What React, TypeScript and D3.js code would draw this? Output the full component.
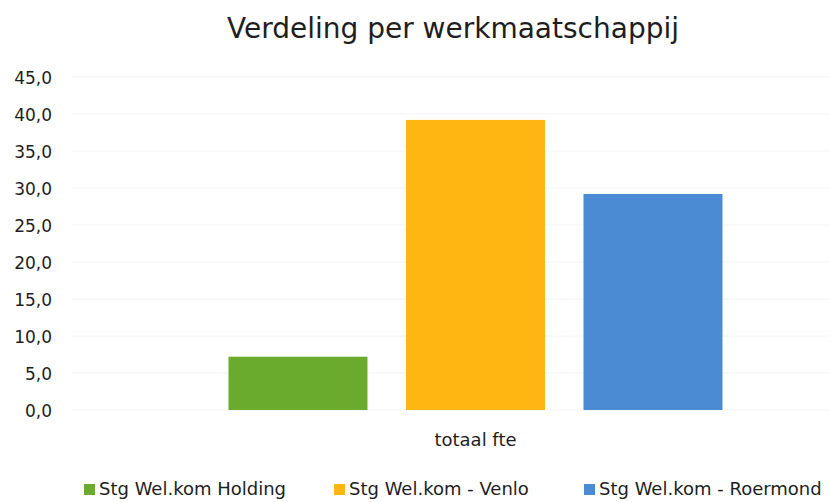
import { useRef, useEffect } from 'react';
import * as d3 from 'd3';

const categories = ['totaal fte'];
const seriesNames = ['Stg Wel.kom Holding', 'Stg Wel.kom - Venlo', 'Stg Wel.kom - Roermond'];
const seriesValues = [7.2, 39.2, 29.2];
const seriesColors = ['#6aab2e', '#ffb612', '#4b8bd3'];
const yTicks = [0, 5, 10, 15, 20, 25, 30, 35, 40, 45];

const FONT = '"DejaVu Sans", "Open Sans", sans-serif';
const TEXT = '#1e1e1e';

export default function App() {
  const svgRef = useRef<SVGSVGElement>(null);

  useEffect(() => {
    if (!svgRef.current) return;
    const W = 830, H = 502;
    const svg = d3.select(svgRef.current);
    svg.selectAll('*').remove();
    svg.attr('viewBox', `0 0 ${W} ${H}`);

    svg.append('rect').attr('width', W).attr('height', H).attr('fill', '#fff');

    const plotLeft = 72, plotRight = 879;
    const y = d3.scaleLinear().domain([0, 45]).range([410, 77]);

    // category scale, then series scale inside it
    const x0 = d3.scaleBand().domain(categories).range([plotLeft, plotRight]).paddingInner(0).paddingOuter(0);
    const groupW = 494;
    const x1 = d3.scaleBand().domain(seriesNames).range([0, groupW]).paddingInner(0.217).paddingOuter(0);

    // Grid lines — very faint
    svg.append('g')
      .selectAll('line')
      .data(yTicks)
      .join('line')
      .attr('x1', plotLeft)
      .attr('x2', W)
      .attr('y1', d => y(d))
      .attr('y2', d => y(d))
      .attr('stroke', '#f4f4f4')
      .attr('stroke-width', 1);

    // Y tick labels
    svg.append('g')
      .selectAll('text')
      .data(yTicks)
      .join('text')
      .attr('x', 52)
      .attr('y', d => y(d) + 7)
      .attr('text-anchor', 'end')
      .attr('fill', TEXT)
      .attr('font-size', 17)
      .attr('font-family', FONT)
      .text(d => d.toFixed(1).replace('.', ','));

    // Bars
    categories.forEach(cat => {
      const gx = x0(cat)! + (x0.bandwidth() - groupW) / 2;
      const g = svg.append('g').attr('transform', `translate(${gx},0)`);
      g.selectAll('rect')
        .data(seriesNames.map((s, i) => ({ s, v: seriesValues[i], c: seriesColors[i] })))
        .join('rect')
        .attr('x', d => x1(d.s)!)
        .attr('width', x1.bandwidth())
        .attr('y', d => y(d.v))
        .attr('height', d => y(0) - y(d.v))
        .attr('fill', d => d.c);

      svg.append('text')
        .attr('x', x0(cat)! + x0.bandwidth() / 2)
        .attr('y', 446)
        .attr('text-anchor', 'middle')
        .attr('fill', TEXT)
        .attr('font-size', 18)
        .attr('font-family', FONT)
        .text(cat);
    });

    // Title
    svg.append('text')
      .attr('x', 453)
      .attr('y', 38)
      .attr('text-anchor', 'middle')
      .attr('fill', TEXT)
      .attr('font-size', 28)
      .attr('font-family', FONT)
      .text('Verdeling per werkmaatschappij');

    // Legend
    const legendX = [84, 334, 584];
    const legend = svg.append('g');
    seriesNames.forEach((name, i) => {
      const lg = legend.append('g').attr('transform', `translate(${legendX[i]}, 495)`);
      lg.append('rect').attr('x', 0).attr('y', -11).attr('width', 11).attr('height', 11).attr('fill', seriesColors[i]);
      lg.append('text')
        .attr('x', 15)
        .attr('y', 0)
        .attr('fill', TEXT)
        .attr('font-size', 18)
        .attr('font-family', FONT)
        .text(name);
    });
  }, []);

  return <svg ref={svgRef} width={830} height={502} style={{ position: 'absolute', left: 0, top: 0, display: 'block' }} />;
}
